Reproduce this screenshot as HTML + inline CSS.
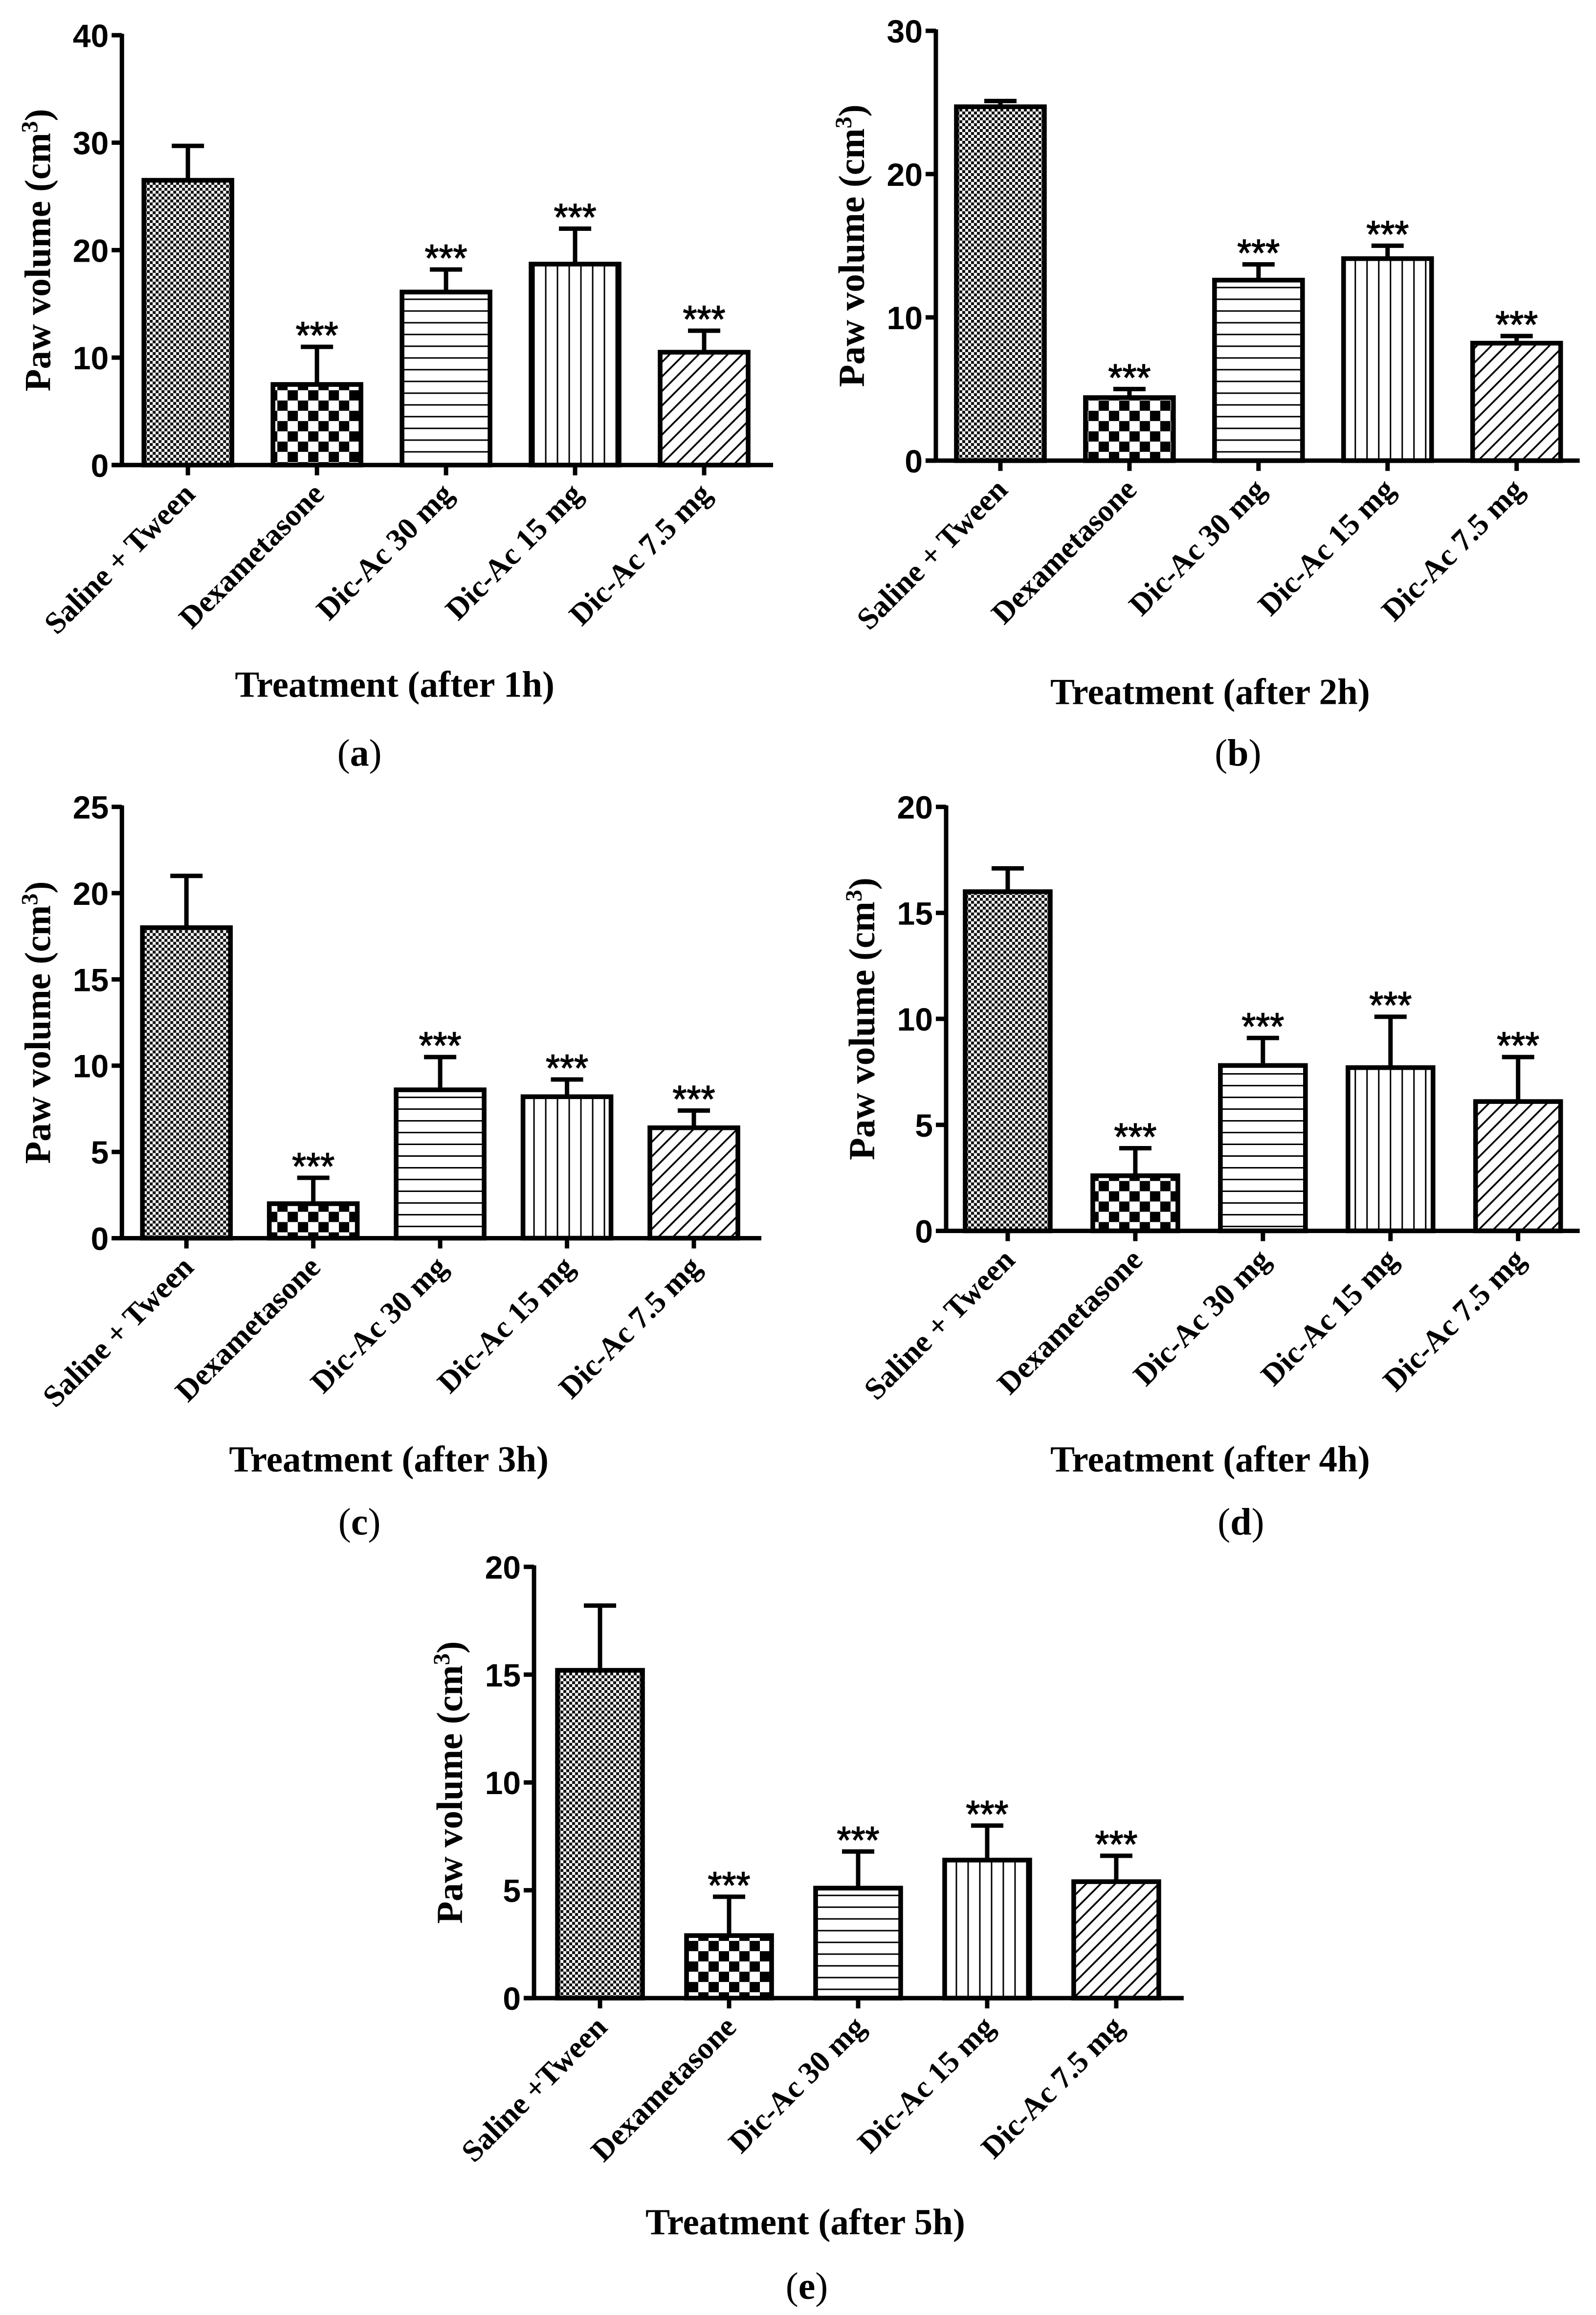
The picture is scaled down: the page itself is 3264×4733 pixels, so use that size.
<!DOCTYPE html>
<html><head><meta charset="utf-8"><style>
html,body{margin:0;padding:0;background:#fff;}
svg{display:block;}
</style></head><body>
<svg id="fig" width="3264" height="4733" viewBox="0 0 1088 1578" xmlns="http://www.w3.org/2000/svg">
<defs>
<pattern id="pFine" width="4" height="4" patternUnits="userSpaceOnUse"><rect width="4" height="4" fill="#fff"/><rect width="2" height="2" fill="#111"/><rect x="2" y="2" width="2" height="2" fill="#111"/></pattern>
<pattern id="pCheck" width="14" height="14" patternUnits="userSpaceOnUse"><rect width="14" height="14" fill="#fff"/><rect width="7" height="7" fill="#000"/><rect x="7" y="7" width="7" height="7" fill="#000"/></pattern>
<pattern id="pHoriz" width="8" height="8" patternUnits="userSpaceOnUse"><rect width="8" height="8" fill="#fff"/><rect y="3.5" width="8" height="1" fill="#000"/></pattern>
<pattern id="pVert" width="8" height="8" patternUnits="userSpaceOnUse"><rect width="8" height="8" fill="#fff"/><rect x="3.5" width="1" height="8" fill="#000"/></pattern>
<pattern id="pDiag" width="7" height="7" patternUnits="userSpaceOnUse" patternTransform="rotate(45)"><rect width="7" height="7" fill="#fff"/><rect x="3" width="1.2" height="7" fill="#000"/></pattern>
</defs>
</svg>
<script>
const categories = ["Saline + Tween","Dexametasone","Dic-Ac 30 mg","Dic-Ac 15 mg","Dic-Ac 7.5 mg"];
const categoriesE = ["Saline +Tween","Dexametasone","Dic-Ac 30 mg","Dic-Ac 15 mg","Dic-Ac 7.5 mg"];
const significance = ["","***","***","***","***"];
const valuesA = [26.5, 7.5, 16.1, 18.7, 10.5];
const errorsA = [3.2, 3.5, 2.1, 3.3, 2.0];
const ticksA = [0,10,20,30,40];
const valuesB = [24.7, 4.4, 12.6, 14.1, 8.2];
const errorsB = [0.4, 0.6, 1.1, 0.9, 0.5];
const ticksB = [0,10,20,30];
const valuesC = [18.0, 2.0, 8.6, 8.2, 6.4];
const errorsC = [3.0, 1.5, 1.9, 1.0, 1.0];
const ticksC = [0,5,10,15,20,25];
const valuesD = [16.0, 2.6, 7.8, 7.7, 6.1];
const errorsD = [1.1, 1.3, 1.3, 2.4, 2.1];
const ticksD = [0,5,10,15,20];
const valuesE = [15.2, 2.9, 5.1, 6.4, 5.4];
const errorsE = [3.0, 1.8, 1.7, 1.6, 1.2];
const ticksE = [0,5,10,15,20];
const patterns = ["pFine","pCheck","pHoriz","pVert","pDiag"];

const NS = "http://www.w3.org/2000/svg";
const svg = document.getElementById("fig");
function mk(tag, attrs, parent){
  const e = document.createElementNS(NS, tag);
  for (const k in attrs) e.setAttribute(k, attrs[k]);
  (parent||svg).appendChild(e);
  return e;
}
function panel(cfg){
  const g = mk("g", {});
  
  
  const ymax = cfg.ticks[cfg.ticks.length-1];
  const y = v => cfg.y0 - (v/ymax)*(cfg.y0-cfg.yTop);
  const x = i => cfg.x1 + i*cfg.step;
  const ya = mk("line", {x1:cfg.ax, y1:cfg.yTop-1, x2:cfg.ax, y2:cfg.y0, stroke:"#000","stroke-width":3}, g);
  
  
  cfg.ticks.forEach(t=>{
    mk("line",{x1:cfg.ax-7,y1:y(t),x2:cfg.ax,y2:y(t),stroke:"#000","stroke-width":3},g);
    const tl = mk("text",{x:cfg.ax-9,y:y(t)+8,"text-anchor":"end","font-family":"Liberation Sans, sans-serif","font-weight":"bold","font-size":22},g);
    tl.textContent = t;
    
    
  });
  const xa = mk("line",{x1:cfg.ax-7,y1:cfg.y0,x2:cfg.axEnd,y2:cfg.y0,stroke:"#000","stroke-width":3},g);
  
  
  const yt = mk("text",{x:0,y:0,transform:`translate(${cfg.ax-49},${(cfg.y0+cfg.yTop)/2}) rotate(-90)`,"text-anchor":"middle","font-family":"Liberation Serif, serif","font-weight":"bold","font-size":25},g);
  yt.innerHTML = 'Paw volume (cm<tspan baseline-shift="super" font-size="16">3</tspan>)';
  
  
  cfg.values.forEach((v,i)=>{
    const cx = x(i);
    const top = y(v), et = y(v+cfg.errors[i]);
    const eb = mk("line",{x1:cx,y1:top,x2:cx,y2:et,stroke:"#000","stroke-width":3},g);
    
    
    mk("line",{x1:cx-11,y1:et,x2:cx+11,y2:et,stroke:"#000","stroke-width":3},g);
    const r = mk("rect",{x:cx-cfg.bw/2,y:top,width:cfg.bw,height:cfg.y0-top,fill:`url(#${patterns[i]})`,stroke:"#000","stroke-width":3.2},g);
    
    
    mk("line",{x1:cx,y1:cfg.y0,x2:cx,y2:cfg.y0+7,stroke:"#000","stroke-width":3},g);
    if (significance[i]) {
      const s = mk("text",{x:cx-14.5,y:et+1,"font-family":"Liberation Sans, sans-serif","font-size":26,"textLength":29,"lengthAdjust":"spacingAndGlyphs","stroke":"#000","stroke-width":0.5},g);
      s.textContent = significance[i];
      
      
    }
    const cl = mk("text",{x:0,y:0,transform:`translate(${cx+6},${cfg.y0+21}) rotate(-45)`,"text-anchor":"end","font-family":"Liberation Serif, serif","font-weight":"bold","font-size":21},g);
    cl.textContent = cfg.cats[i];
    
    
  });
  const xt = mk("text",{x:cfg.titleX,y:cfg.titleY,"text-anchor":"middle","font-family":"Liberation Serif, serif","font-weight":"bold","font-size":25},g);
  xt.textContent = cfg.title;
  
  
  const pl = mk("text",{x:cfg.labelX,y:cfg.labelY,"text-anchor":"middle","font-family":"Liberation Serif, serif","font-size":26},g);
  pl.innerHTML = '(<tspan font-weight="bold">'+cfg.id+'</tspan>)';
  
  
}
panel({id:"a",values:valuesA,errors:errorsA,ticks:ticksA,cats:categories,ax:83,axEnd:527,yTop:24,y0:317,x1:128,step:88,bw:60,title:"Treatment (after 1h)",titleX:269,titleY:475,labelX:245,labelY:522});
panel({id:"b",values:valuesB,errors:errorsB,ticks:ticksB,cats:categories,ax:638,axEnd:1077,yTop:21,y0:314,x1:682,step:88,bw:60,title:"Treatment (after 2h)",titleX:825,titleY:480,labelX:844,labelY:522});
panel({id:"c",values:valuesC,errors:errorsC,ticks:ticksC,cats:categories,ax:83,axEnd:519,yTop:550,y0:844,x1:127,step:86.5,bw:60,title:"Treatment (after 3h)",titleX:265,titleY:1003,labelX:245,labelY:1046});
panel({id:"d",values:valuesD,errors:errorsD,ticks:ticksD,cats:categories,ax:645,axEnd:1077,yTop:550,y0:839,x1:687,step:87,bw:58,title:"Treatment (after 4h)",titleX:825,titleY:1003,labelX:846,labelY:1046});
panel({id:"e",values:valuesE,errors:errorsE,ticks:ticksE,cats:categoriesE,ax:364,axEnd:807,yTop:1068,y0:1362,x1:409,step:88,bw:58,title:"Treatment (after 5h)",titleX:549,titleY:1523,labelX:550,labelY:1567});
</script>
</body></html>
